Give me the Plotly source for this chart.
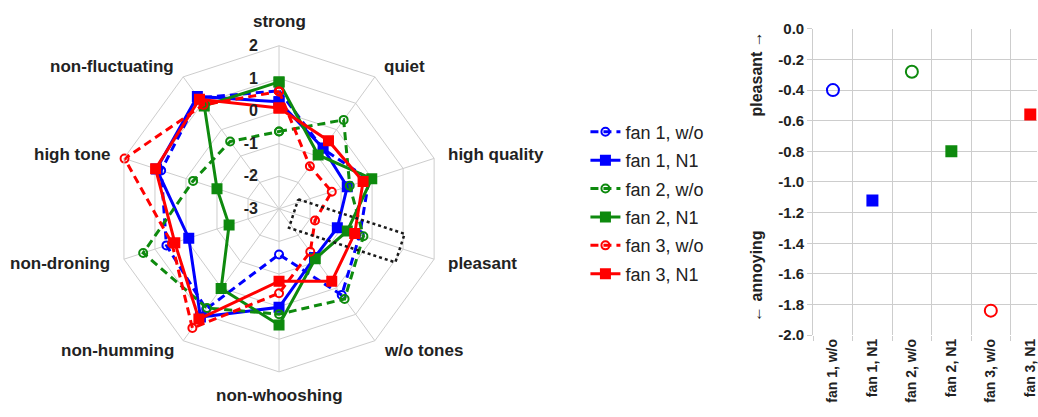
import math
import plotly.graph_objects as go

# Attribute axes of the radar, clockwise from the top
categories = ["strong", "quiet", "high quality", "pleasant", "w/o tones",
              "non-whooshing", "non-humming", "non-droning", "high tone",
              "non-fluctuating"]

series_names = ["fan 1, w/o", "fan 1, N1", "fan 2, w/o",
                "fan 2, N1", "fan 3, w/o", "fan 3, N1"]

# Mean ratings per attribute (same order as categories)
fan1_wo = [0.62, -0.72, -0.10, -0.40, 0.27, -1.60, 0.80, 0.63, 0.80, 1.20]
fan1_n1 = [0.28, -0.70, -0.80, -1.12, -1.15, 0.02, 1.10, -0.09, 0.95, 1.26]
fan2_wo = [-0.63, 0.37, -0.72, -0.28, 0.42, 0.23, 0.76, 1.38, -0.23, -0.45]
fan2_n1 = [0.89, -0.96, -0.01, -0.80, -1.11, 0.56, 0.02, -1.39, -1.00, 0.90]
fan3_wo = [0.60, -1.39, -1.30, -1.84, -1.37, -0.41, 1.52, 0.45, 1.98, 0.94]
fan3_n1 = [0.09, -0.42, -0.29, -0.56, -0.25, -0.78, 1.18, 0.36, 0.98, 1.15]

radial_ticks = [-3, -2, -1, 0, 1, 2]
radial_tick_text = ["-3", "-2", "-1", "0", "1", "2"]

pleasant_ticks = [0.0, -0.2, -0.4, -0.6, -0.8, -1.0, -1.2, -1.4, -1.6, -1.8, -2.0]
pleasant_tick_text = ["0.0", "-0.2", "-0.4", "-0.6", "-0.8", "-1.0",
                      "-1.2", "-1.4", "-1.6", "-1.8", "-2.0"]

all_series = [fan1_wo, fan1_n1, fan2_wo, fan2_n1, fan3_wo, fan3_n1]

BLUE, GREEN, RED = "#0000ff", "#0e8a0e", "#ff0000"
styles = [
    dict(color=BLUE, dash="8px,5px", symbol="circle-open"),
    dict(color=BLUE, dash="solid", symbol="square"),
    dict(color=GREEN, dash="8px,5px", symbol="circle-open"),
    dict(color=GREEN, dash="solid", symbol="square"),
    dict(color=RED, dash="8px,5px", symbol="circle-open"),
    dict(color=RED, dash="solid", symbol="square"),
]

FONT = "Liberation Sans, Arial, sans-serif"
GRID = "#cdcdcd"
TEXT = "#222222"

W, H = 1038, 417
# radar placement (pixels)
CX, CY, R = 279.3, 208.3, 170.0
radar_x = [(CX - R) / W, (CX + R) / W]
radar_y = [(H - CY - R) / H, (H - CY + R) / H]
LABEL_PAD_X, LABEL_PAD_Y = 6, 13

# the radar's radial axis starts at the lowest rating; radii are measured from it
R_MIN = radial_ticks[0]
R_SPAN = radial_ticks[-1] - R_MIN


def to_radius(values):
    return [v - R_MIN for v in values]


fig = go.Figure()

for name, vals, st in zip(series_names, all_series, styles):
    fig.add_trace(go.Scatterpolar(
        r=to_radius(vals + vals[:1]),
        theta=categories + categories[:1],
        customdata=vals + vals[:1],
        hovertemplate="%{theta}: %{customdata}<extra>" + name + "</extra>",
        name=name,
        legendgroup=name,
        mode="lines+markers",
        line=dict(color=st["color"], width=3, dash=st["dash"]),
        marker=dict(symbol=st["symbol"], size=9 if st["symbol"] == "square" else 8,
                    color=st["color"],
                    line=dict(color=st["color"], width=2)),
        subplot="polar",
    ))

# dotted box around the "pleasant" axis (drawn on an overlaid numeric polar)
box_axis_angle = categories.index("pleasant") * 360 / len(categories)
box_from, box_to, box_half = -2.53, 0.90, 0.46
box_r, box_theta = [], []
for a, p in [(box_from - R_MIN, -box_half), (box_to - R_MIN, -box_half),
             (box_to - R_MIN, box_half), (box_from - R_MIN, box_half),
             (box_from - R_MIN, -box_half)]:
    box_r.append(math.hypot(a, p))
    box_theta.append(box_axis_angle + math.degrees(math.atan2(p, a)))

fig.add_trace(go.Scatterpolar(
    r=box_r, theta=box_theta, mode="lines", showlegend=False,
    line=dict(color="#1a1a1a", width=2.5, dash="3px,3px"),
    hoverinfo="skip", subplot="polar2",
))

# pleasantness summary on the right
for name, vals, st in zip(series_names, all_series, styles):
    fig.add_trace(go.Scatter(
        x=[name], y=[vals[categories.index("pleasant")]],
        mode="markers", legendgroup=name, showlegend=False,
        marker=dict(symbol=st["symbol"], color=st["color"],
                    size=10 if st["symbol"] == "square" else 12,
                    line=dict(color=st["color"], width=2)),
        xaxis="x", yaxis="y",
    ))

# attribute names just outside the outer ring of the radar
annotations = []
for i, cat in enumerate(categories):
    ang = math.radians(i * 360 / len(categories))
    s, c = math.sin(ang), math.cos(ang)
    px = CX + (R + LABEL_PAD_X) * s
    py = CY - (R + LABEL_PAD_Y) * c
    if abs(s) < 0.1:
        xa, ya = "center", ("bottom" if c > 0 else "top")
    else:
        xa, ya = ("left" if s > 0 else "right"), "middle"
    annotations.append(dict(
        text=cat, x=px / W, y=1 - py / H, xref="paper", yref="paper",
        xanchor=xa, yanchor=ya, showarrow=False,
        font=dict(size=17, weight="bold", color=TEXT),
    ))

annotations += [
    dict(text="pleasant →", textangle=-90, x=757 / W, y=1 - 68 / H,
         xanchor="center", yanchor="middle",
         xref="paper", yref="paper", showarrow=False,
         font=dict(size=16, weight="bold", color=TEXT)),
    dict(text="← annoying", textangle=-90, x=757 / W, y=1 - 278 / H,
         xanchor="center", yanchor="middle",
         xref="paper", yref="paper", showarrow=False,
         font=dict(size=16, weight="bold", color=TEXT)),
]

fig.update_layout(
    width=W, height=H,
    margin=dict(l=0, r=0, t=0, b=0),
    paper_bgcolor="white",
    plot_bgcolor="white",
    font=dict(family=FONT, color=TEXT),
    polar=dict(
        domain=dict(x=radar_x, y=radar_y),
        gridshape="linear",
        bgcolor="white",
        radialaxis=dict(
            range=[0, R_SPAN],
            tickmode="array", tickvals=to_radius(radial_ticks), ticktext=radial_tick_text,
            showline=False, gridcolor=GRID, gridwidth=1,
            ticks="outside", ticklen=15, tickcolor="rgba(0,0,0,0)",
            angle=90, side="counterclockwise", tickangle=90,
            tickfont=dict(size=16, weight="bold", color=TEXT),
        ),
        angularaxis=dict(
            rotation=90, direction="clockwise",
            categoryorder="array", categoryarray=categories,
            linecolor=GRID, linewidth=1, gridcolor=GRID,
            ticks="", showticklabels=False,
        ),
    ),
    polar2=dict(
        domain=dict(x=radar_x, y=radar_y),
        bgcolor="rgba(0,0,0,0)",
        radialaxis=dict(range=[0, R_SPAN], visible=False),
        angularaxis=dict(rotation=90, direction="clockwise", visible=False,
                         thetaunit="degrees", type="linear"),
    ),
    xaxis=dict(
        domain=[814 / W, 1.0],
        type="category", categoryorder="array", categoryarray=series_names,
        range=[-0.5, 5.17], tickson="boundaries",
        showgrid=True, gridcolor=GRID, gridwidth=1,
        ticks="outside", ticklen=5, tickcolor=GRID,
        tickangle=-90, tickfont=dict(size=14, weight="bold", color=TEXT),
        zeroline=False, showline=False,
    ),
    yaxis=dict(
        domain=[77 / H, (H - 20.7) / H],
        range=[-2.0, 0.0],
        tickmode="array", tickvals=pleasant_ticks, ticktext=pleasant_tick_text,
        showgrid=True, gridcolor=GRID, gridwidth=1,
        ticks="outside", ticklen=5, tickcolor=GRID,
        showline=True, linecolor=GRID,
        tickfont=dict(size=15, weight="bold", color=TEXT),
        zeroline=False,
    ),
    legend=dict(
        x=586 / W, y=1 - 109 / H, xanchor="left", yanchor="top",
        font=dict(size=18, color=TEXT),
        bgcolor="rgba(0,0,0,0)", tracegroupgap=2,
    ),
    annotations=annotations,
)

fig.write_html("out.html")
